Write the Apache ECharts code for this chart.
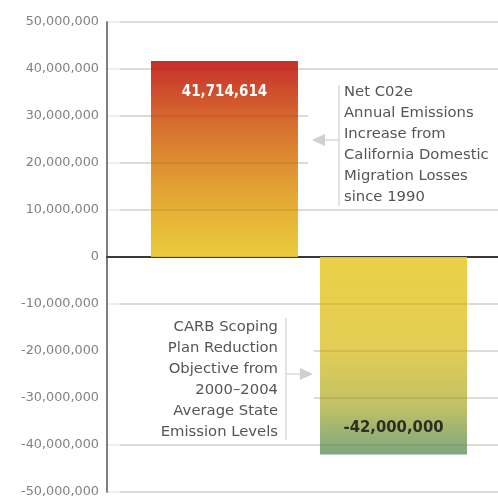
<!DOCTYPE html>
<html>
<head>
<meta charset="utf-8">
<script src="https://cdn.jsdelivr.net/npm/echarts@6/dist/echarts.min.js"></script>
<style>
  html, body { margin: 0; padding: 0; background: #fff; }
  #chart { width: 498px; height: 499px; }
</style>
</head>
<body>
<div id="chart"></div>
<script>
// values
const categories = ['Change'];
const increaseValues = [41714614];
const reductionValues = [-42000000];
const increaseNote = 'Net C02e\nAnnual Emissions\nIncrease from\nCalifornia Domestic\nMigration Losses\nsince 1990';
const reductionNote = 'CARB Scoping\nPlan Reduction\nObjective from\n2000\u20132004\nAverage State\nEmission Levels';

const fmt = v => Number(v).toLocaleString('en-US');
const yMin = -50000000, yMax = 50000000, yStep = 10000000;

const chart = echarts.init(document.getElementById('chart'));

const noteFont = '14.8px "DejaVu Sans"';

const option = {
    animation: false,
    backgroundColor: '#fff',
    // grid 0 carries the visible axes, grid 1 places the bars
    grid: [
        { left: 107, right: 0, top: 22, bottom: 7 },
        { left: 120, right: 0, top: 22, bottom: 7 }
    ],
    xAxis: [
        {
            type: 'category', gridIndex: 0,
            data: categories,
            axisLine: { onZero: true, lineStyle: { color: '#3a3a3a', width: 2 } },
            axisTick: { show: false },
            axisLabel: { show: false }
        },
        {
            type: 'category', gridIndex: 1,
            data: categories,
            show: false
        }
    ],
    yAxis: [
        {
            type: 'value', gridIndex: 0,
            min: yMin, max: yMax, interval: yStep,
            axisLine: { show: true, lineStyle: { color: '#555', width: 1.5 } },
            axisTick: { show: false },
            axisLabel: {
                color: '#808080',
                fontFamily: 'DejaVu Sans',
                fontSize: 12.8,
                margin: 8,
                formatter: fmt
            },
            splitLine: { lineStyle: { color: '#e9e9e9', width: 1.5 } }
        },
        {
            // faint lines drawn over the bars
            type: 'value', gridIndex: 1, z: 3,
            min: yMin, max: yMax, interval: yStep,
            axisLine: { show: false },
            axisTick: { show: false },
            axisLabel: { show: false },
            splitLine: { lineStyle: { color: 'rgba(80,50,0,0.13)', width: 1.5 } }
        }
    ],
    series: [
        {
            name: 'Increase',
            type: 'bar',
            xAxisIndex: 1, yAxisIndex: 1,
            data: increaseValues,
            barWidth: 147,
            barGap: '15%',
            itemStyle: {
                color: new echarts.graphic.LinearGradient(0, 0, 0, 1, [
                    { offset: 0, color: '#c72f2b' },
                    { offset: 0.35, color: '#d8742f' },
                    { offset: 0.7, color: '#e3a935' },
                    { offset: 1, color: '#eacb3c' }
                ])
            },
            label: {
                show: true,
                position: 'insideTop',
                distance: 24,
                color: '#fff',
                fontFamily: 'DejaVu Sans Condensed',
                fontWeight: 'bold',
                fontSize: 15,
                formatter: p => fmt(p.value)
            }
        },
        {
            name: 'Reduction',
            type: 'bar',
            xAxisIndex: 1, yAxisIndex: 1,
            data: reductionValues,
            barWidth: 147,
            itemStyle: {
                color: new echarts.graphic.LinearGradient(0, 0, 0, 1, [
                    { offset: 0, color: '#ead046' },
                    { offset: 0.45, color: '#e4cd55' },
                    { offset: 0.75, color: '#c2c166' },
                    { offset: 1, color: '#7fa77e' }
                ])
            },
            label: {
                show: true,
                position: 'insideBottom',
                distance: 18,
                color: '#2e2e22',
                fontFamily: 'DejaVu Sans Condensed',
                fontWeight: 'bold',
                fontSize: 16.5,
                formatter: p => fmt(p.value)
            }
        }
    ],
    graphic: [
        // right note, on a white panel hiding the grid lines
        { type: 'rect', z: 5, shape: { x: 308, y: 78, width: 190, height: 129 }, style: { fill: '#fff' } },
        { type: 'line', z: 6, shape: { x1: 339, y1: 85, x2: 339, y2: 206 }, style: { stroke: '#d8d8d8', lineWidth: 1.5 } },
        { type: 'line', z: 6, shape: { x1: 323, y1: 140, x2: 339, y2: 140 }, style: { stroke: '#d8d8d8', lineWidth: 1.5 } },
        { type: 'polygon', z: 6, shape: { points: [[312, 140], [325, 134], [325, 146]] }, style: { fill: '#d0d0d0' } },
        {
            type: 'text', z: 6, x: 344, y: 81.5,
            style: { text: increaseNote, fill: '#555', font: noteFont, lineHeight: 21 }
        },
        // left note
        { type: 'rect', z: 5, shape: { x: 108, y: 314, width: 206, height: 128 }, style: { fill: '#fff' } },
        { type: 'line', z: 6, shape: { x1: 286, y1: 318, x2: 286, y2: 440 }, style: { stroke: '#d8d8d8', lineWidth: 1.5 } },
        { type: 'line', z: 6, shape: { x1: 287, y1: 374, x2: 301, y2: 374 }, style: { stroke: '#d8d8d8', lineWidth: 1.5 } },
        { type: 'polygon', z: 6, shape: { points: [[313, 374], [300, 368], [300, 380]] }, style: { fill: '#d0d0d0' } },
        {
            type: 'text', z: 6, x: 278, y: 316.5,
            style: { text: reductionNote, fill: '#555', font: noteFont, lineHeight: 21, align: 'right' }
        }
    ]
};

chart.setOption(option);
</script>
</body>
</html>
